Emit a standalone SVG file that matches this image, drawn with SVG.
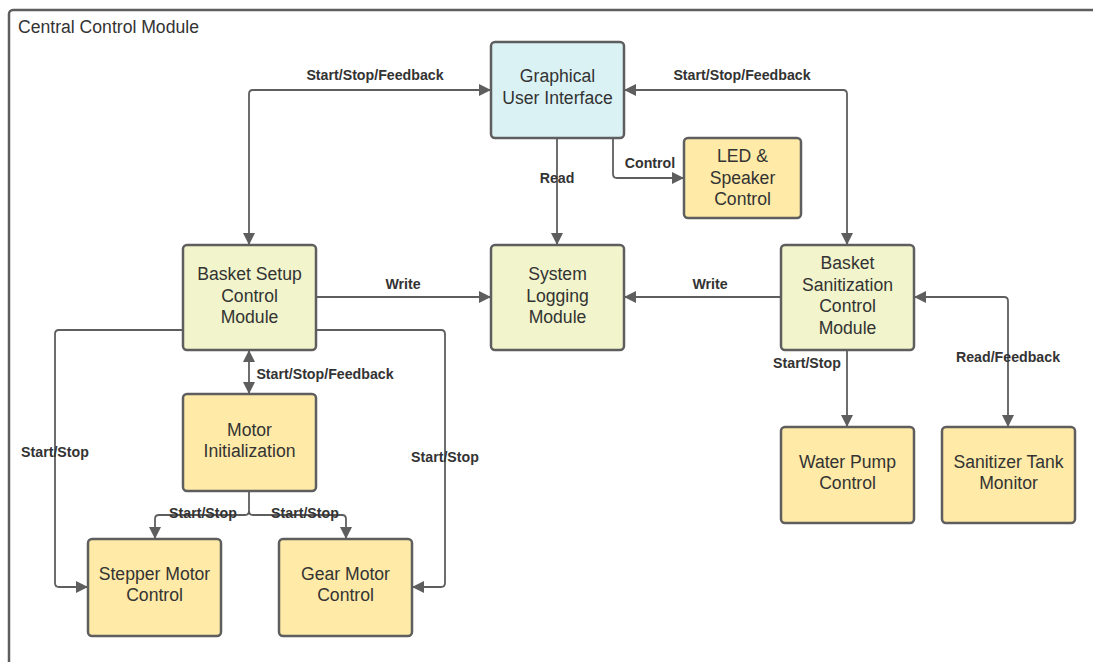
<svg xmlns="http://www.w3.org/2000/svg" width="1093" height="662" viewBox="0 0 1093 662">
<defs>
<marker id="ah" viewBox="0 0 12 12" refX="11" refY="6" markerWidth="12" markerHeight="12" markerUnits="userSpaceOnUse" orient="auto-start-reverse">
<path d="M0,0 L12,6 L0,12 Z" fill="#5e5e5e"/>
</marker>
<style>
.box{stroke:#5e5e5e;stroke-width:2.5}
.y{fill:#ffeaa7}
.g{fill:#f2f5cb}
.c{fill:#dbf2f5}
.t{font-family:"Liberation Sans",Arial,sans-serif;font-size:17.6px;fill:#333;text-anchor:middle}
.l{font-family:"Liberation Sans",Arial,sans-serif;font-size:14.2px;font-weight:bold;fill:#333;text-anchor:middle}
.e{fill:none;stroke:#5e5e5e;stroke-width:1.8}
</style>
</defs>
<rect width="1093" height="662" fill="#fff"/>
<g id="frame">
<rect x="9" y="10" width="1100" height="680" rx="4" fill="none" stroke="#5e5e5e" stroke-width="2.5"/>
<text x="18" y="33" font-family="Liberation Sans, Arial, sans-serif" font-size="17.6" fill="#333">Central Control Module</text>
</g>
<g id="connectors">
<path class="e" d="M249,244 V94 Q249,90 253,90 H490" marker-start="url(#ah)" marker-end="url(#ah)"/>
<path class="e" d="M847,244 V94 Q847,90 843,90 H625" marker-start="url(#ah)" marker-end="url(#ah)"/>
<path class="e" d="M557,139 V244" marker-end="url(#ah)"/>
<path class="e" d="M613,139 V174 Q613,178 617,178 H683" marker-end="url(#ah)"/>
<path class="e" d="M317,297 H490" marker-end="url(#ah)"/>
<path class="e" d="M780,297 H625" marker-end="url(#ah)"/>
<path class="e" d="M249,351 V393" marker-start="url(#ah)" marker-end="url(#ah)"/>
<path class="e" d="M182,330 H59 Q55,330 55,334 V583 Q55,587 59,587 H87" marker-end="url(#ah)"/>
<path class="e" d="M317,330 H441 Q445,330 445,334 V583 Q445,587 441,587 H413" marker-end="url(#ah)"/>
<path class="e" d="M249,492 V511 Q249,515 245,515 H159 Q155,515 155,519 V538" marker-end="url(#ah)"/>
<path class="e" d="M249,511 Q249,515 253,515 H342 Q346,515 346,519 V538" marker-end="url(#ah)"/>
<path class="e" d="M847,351 V426" marker-end="url(#ah)"/>
<path class="e" d="M915,297 H1004 Q1008,297 1008,301 V426" marker-start="url(#ah)" marker-end="url(#ah)"/>
<text class="l" x="375" y="80">Start/Stop/Feedback</text>
<text class="l" x="742" y="80">Start/Stop/Feedback</text>
<text class="l" x="557" y="183">Read</text>
<text class="l" x="650" y="168">Control</text>
<text class="l" x="403" y="289">Write</text>
<text class="l" x="710" y="289">Write</text>
<text class="l" x="325" y="379">Start/Stop/Feedback</text>
<text class="l" x="55" y="457">Start/Stop</text>
<text class="l" x="445" y="462">Start/Stop</text>
<text class="l" x="203" y="518">Start/Stop</text>
<text class="l" x="305" y="518">Start/Stop</text>
<text class="l" x="807" y="368">Start/Stop</text>
<text class="l" x="1008" y="362">Read/Feedback</text>
</g>
<g id="gui">
<rect class="box c" x="491" y="42" width="133" height="96" rx="4"/>
<text class="t" x="557.5" y="82">Graphical</text>
<text class="t" x="557.5" y="104">User Interface</text>
</g>
<g id="led">
<rect class="box y" x="684" y="138" width="117" height="80" rx="4"/>
<text class="t" x="742.5" y="162">LED &amp;</text>
<text class="t" x="742.5" y="184">Speaker</text>
<text class="t" x="742.5" y="205">Control</text>
</g>
<g id="basket-setup">
<rect class="box g" x="183" y="245" width="133" height="105" rx="4"/>
<text class="t" x="249.5" y="280">Basket Setup</text>
<text class="t" x="249.5" y="302">Control</text>
<text class="t" x="249.5" y="323">Module</text>
</g>
<g id="logging">
<rect class="box g" x="491" y="245" width="133" height="105" rx="4"/>
<text class="t" x="557.5" y="280">System</text>
<text class="t" x="557.5" y="302">Logging</text>
<text class="t" x="557.5" y="323">Module</text>
</g>
<g id="sanitization">
<rect class="box g" x="781" y="245" width="133" height="105" rx="4"/>
<text class="t" x="847.5" y="269">Basket</text>
<text class="t" x="847.5" y="291">Sanitization</text>
<text class="t" x="847.5" y="312">Control</text>
<text class="t" x="847.5" y="334">Module</text>
</g>
<g id="motor-init">
<rect class="box y" x="183" y="394" width="133" height="97" rx="4"/>
<text class="t" x="249.5" y="436">Motor</text>
<text class="t" x="249.5" y="457">Initialization</text>
</g>
<g id="stepper">
<rect class="box y" x="88" y="539" width="133" height="97" rx="4"/>
<text class="t" x="154.5" y="580">Stepper Motor</text>
<text class="t" x="154.5" y="601">Control</text>
</g>
<g id="gear">
<rect class="box y" x="279" y="539" width="133" height="97" rx="4"/>
<text class="t" x="345.5" y="580">Gear Motor</text>
<text class="t" x="345.5" y="601">Control</text>
</g>
<g id="water-pump">
<rect class="box y" x="781" y="427" width="133" height="96" rx="4"/>
<text class="t" x="847.5" y="468">Water Pump</text>
<text class="t" x="847.5" y="489">Control</text>
</g>
<g id="tank">
<rect class="box y" x="942" y="427" width="133" height="96" rx="4"/>
<text class="t" x="1008.5" y="468">Sanitizer Tank</text>
<text class="t" x="1008.5" y="489">Monitor</text>
</g>
</svg>
